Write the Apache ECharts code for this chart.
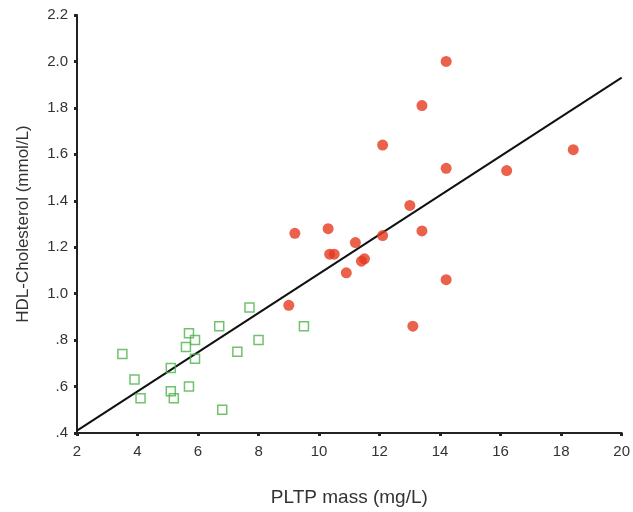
<!DOCTYPE html>
<html>
<head>
<meta charset="utf-8">
<script src="https://cdn.jsdelivr.net/npm/echarts@6/dist/echarts.min.js"></script>
<style>html,body{margin:0;padding:0;background:#fff}#c{width:633px;height:512px}</style>
</head>
<body>
<div id="c"></div>
<script>
// PLTP mass (mg/L) and HDL-Cholesterol (mmol/L)
const redX = [14.2, 13.4, 12.1, 18.4, 14.2, 16.2, 13.0, 10.3, 12.1, 13.4, 11.2, 10.35, 10.5, 11.4, 11.5, 10.9, 14.2, 13.1, 9.2, 9.0];
const redY = [2.00, 1.81, 1.64, 1.62, 1.54, 1.53, 1.38, 1.28, 1.25, 1.27, 1.22, 1.17, 1.17, 1.14, 1.15, 1.09, 1.06, 0.86, 1.26, 0.95];
const greenX = [3.5, 3.9, 4.1, 5.1, 5.1, 5.2, 5.7, 5.6, 5.9, 5.9, 5.7, 6.7, 6.8, 7.3, 7.7, 8.0, 9.5];
const greenY = [0.74, 0.63, 0.55, 0.68, 0.58, 0.55, 0.83, 0.77, 0.80, 0.72, 0.60, 0.86, 0.50, 0.75, 0.94, 0.80, 0.86];
const fitX = [2, 20];
const fitY = [0.41, 1.93];
const xTicks = [2, 4, 6, 8, 10, 12, 14, 16, 18, 20];
const yTicks = ['.4', '.6', '.8', '1.0', '1.2', '1.4', '1.6', '1.8', '2.0', '2.2'];

const zip = (a, b) => a.map((v, i) => [v, b[i]]);
const chart = echarts.init(document.getElementById('c'));
const font = 'Liberation Sans, Arial, sans-serif';
chart.setOption({
  animation: false,
  grid: { left: 77, right: 10, top: 15, bottom: 73, containLabel: false },
  xAxis: {
    type: 'value', min: 2, max: 20, interval: 2,
    name: 'PLTP mass (mg/L)', nameLocation: 'middle', nameGap: 55,
    nameTextStyle: { fontFamily: font, fontSize: 19, color: '#333' },
    axisLine: { onZero: false, lineStyle: { color: '#222', width: 2 } },
    axisTick: { length: 3, lineStyle: { color: '#222', width: 3 } },
    axisLabel: { fontFamily: font, fontSize: 15, color: '#333', margin: 11,
      formatter: v => String(xTicks[Math.round((v - 2) / 2)]) },
    splitLine: { show: false }
  },
  yAxis: {
    type: 'value', min: 0.4, max: 2.2, interval: 0.2,
    name: 'HDL-Cholesterol (mmol/L)', nameLocation: 'middle', nameGap: 45,
    nameTextStyle: { fontFamily: font, fontSize: 17, color: '#333' },
    axisLine: { onZero: false, lineStyle: { color: '#222', width: 2 } },
    axisTick: { length: 3, lineStyle: { color: '#222', width: 3 } },
    axisLabel: { fontFamily: font, fontSize: 15, color: '#333', margin: 9,
      formatter: v => yTicks[Math.round((v - 0.4) / 0.2)] },
    splitLine: { show: false }
  },
  series: [
    { type: 'line', data: zip(fitX, fitY), symbol: 'none', z: 1,
      lineStyle: { color: '#111', width: 2 } },
    { type: 'scatter', data: zip(greenX, greenY), symbol: 'rect', symbolSize: 9, z: 2,
      itemStyle: { color: 'rgba(255,255,255,0)', borderColor: '#4fb14a', borderWidth: 1.5 } },
    { type: 'scatter', data: zip(redX, redY), symbol: 'circle', symbolSize: 11, z: 3,
      itemStyle: { color: '#e5391f' } }
  ]
});
</script>
</body>
</html>
